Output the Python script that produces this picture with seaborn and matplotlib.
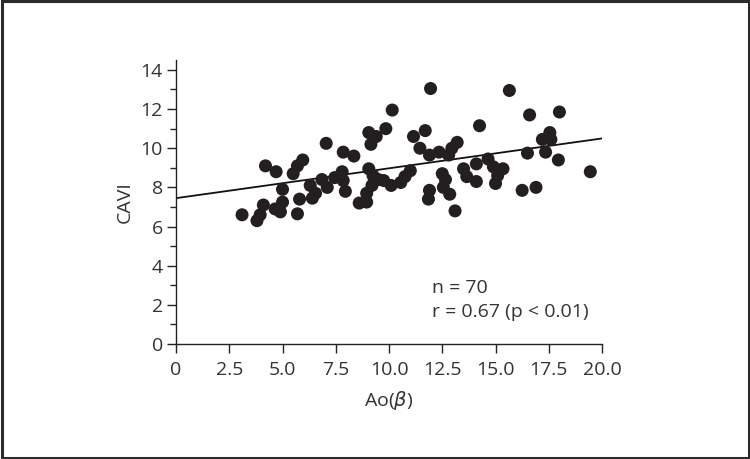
import numpy as np
import pandas as pd
import matplotlib
matplotlib.use("Agg")
import matplotlib.pyplot as plt
import seaborn as sns
from matplotlib.patches import Rectangle
from matplotlib.ticker import MultipleLocator

# data
ao_beta = [3.1, 3.8, 3.95, 4.1, 4.2, 4.7, 4.65, 4.9, 5.0, 5.0,
           5.5, 5.7, 5.95, 5.7, 5.8, 6.3, 6.4, 6.55, 6.85, 7.1,
           7.05, 7.45, 7.8, 7.85, 7.95, 7.85, 8.35, 8.6, 8.95, 8.95,
           9.05, 9.05, 9.4, 9.15, 9.85, 10.15, 9.25, 9.5, 9.75, 10.1,
           10.55, 10.75, 11.0, 9.2, 11.15, 11.7, 11.45, 11.9, 12.35, 12.8,
           12.95, 13.2, 11.95, 14.25, 15.65, 16.6, 18.0, 17.2, 17.55, 17.6,
           16.5, 17.35, 17.95, 19.45, 14.1, 13.5, 13.65, 14.1, 14.65, 14.9,
           15.35, 15.1, 15.0, 16.25, 16.9, 12.5, 12.65, 12.55, 12.85, 11.9,
           11.85, 13.1]
cavi = [6.6, 6.3, 6.6, 7.1, 9.1, 8.8, 6.9, 6.75, 7.25, 7.9,
        8.7, 9.1, 9.4, 6.65, 7.4, 8.1, 7.45, 7.7, 8.4, 8.0,
        10.25, 8.5, 8.8, 8.35, 7.8, 9.8, 9.6, 7.2, 7.25, 7.7,
        8.95, 10.8, 10.6, 10.2, 11.0, 11.95, 8.6, 8.4, 8.35, 8.1,
        8.25, 8.55, 8.85, 8.1, 10.6, 10.9, 10.0, 9.65, 9.8, 9.65,
        10.0, 10.3, 13.05, 11.15, 12.95, 11.7, 11.85, 10.45, 10.8, 10.45,
        9.75, 9.8, 9.4, 8.8, 9.2, 8.95, 8.55, 8.3, 9.45, 9.05,
        8.95, 8.6, 8.2, 7.85, 8.0, 8.7, 8.4, 8.0, 7.65, 7.85,
        7.4, 6.8]

# regression line end points
fit_x = [0, 20]
fit_y = [7.45, 10.5]

x_ticks = [0, 2.5, 5.0, 7.5, 10.0, 12.5, 15.0, 17.5, 20.0]
x_tick_labels = ["0", "2.5", "5.0", "7.5", "10.0", "12.5", "15.0", "17.5", "20.0"]
y_ticks = [0, 2, 4, 6, 8, 10, 12, 14]

df = pd.DataFrame({"ao": ao_beta, "cavi": cavi})

sns.set_style("ticks")
plt.rcParams["font.family"] = ["Open Sans", "DejaVu Sans"]
plt.rcParams["mathtext.fontset"] = "dejavusans"

text_col = "#333333"
dot_col = "#231f20"
fs = 14

fig = plt.figure(figsize=(7.5, 4.59), dpi=100)
ax = fig.add_axes([0.2347, 0.2505, 0.568, 0.6185])

sns.scatterplot(data=df, x="ao", y="cavi", s=88, color=dot_col,
                edgecolor="none", ax=ax, zorder=3)
ax.plot(fit_x, fit_y, color="#111111", lw=1.3, zorder=2)

ax.set_xlim(0, 20)
ax.set_ylim(0, 14.5)
ax.set_xticks(x_ticks)
ax.set_xticklabels(x_tick_labels)
ax.set_yticks(y_ticks)
ax.yaxis.set_minor_locator(MultipleLocator(1))

for s in ["top", "right"]:
    ax.spines[s].set_visible(False)
for s in ["left", "bottom"]:
    ax.spines[s].set_color("#222222")
    ax.spines[s].set_linewidth(1.0)

ax.tick_params(axis="both", which="major", length=6.5, width=1.0,
               color="#222222", labelsize=fs, labelcolor=text_col, pad=3)
ax.tick_params(axis="x", which="major", pad=6)
ax.tick_params(axis="y", which="minor", length=4.5, width=1.0, color="#222222")

ax.set_xlabel("Ao($\\beta$)", fontsize=fs, color=text_col, labelpad=7)
ax.set_ylabel("CAVI", fontsize=fs, color=text_col, labelpad=5)

ax.text(12.0, 2.86, "n = 70", fontsize=fs, color=text_col, va="center")
ax.text(12.0, 1.64, "r = 0.67 (p < 0.01)", fontsize=fs, color=text_col, va="center")

# outer frame
fig.patches.append(Rectangle((0.002, 0.003), 0.996, 0.994, transform=fig.transFigure,
                             fill=False, edgecolor="#2b2b2b", lw=2.2))

fig.savefig("out.png", dpi=100)
